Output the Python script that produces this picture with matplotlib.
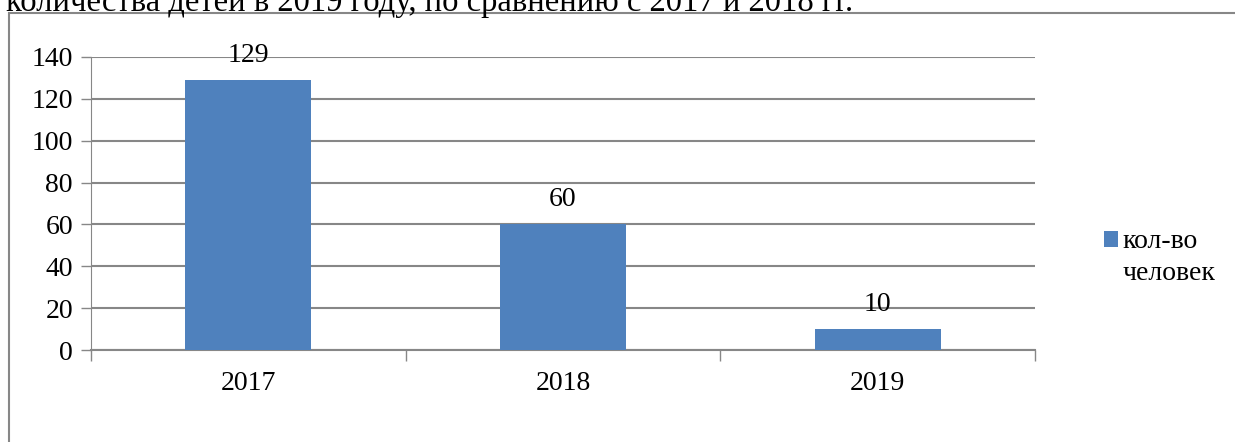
import matplotlib.pyplot as plt
from matplotlib.patches import Rectangle
from matplotlib.container import BarContainer
from matplotlib.legend_handler import HandlerPatch, update_from_first_child

years = ['2017', '2018', '2019']
counts = [129, 60, 10]
series_name = 'кол-во\nчеловек'
heading = 'количества детей в 2019 году, по сравнению с 2017 и 2018 гг.'

plt.rcParams['font.family'] = ['Liberation Serif', 'DejaVu Serif']

W, H = 1235, 442
fig = plt.figure(figsize=(W / 100, H / 100), dpi=100)

# caption line above the chart, clipped at the top edge
fig.text(6 / W, 1 - 11 / H, heading, fontsize=23.5, va='baseline', ha='left')

# outer chart frame (runs off the right and bottom edges)
fig.patches.append(Rectangle((9 / W, -0.1), 1.2, 1 - 13 / H + 0.1,
                             transform=fig.transFigure, fill=False,
                             edgecolor='#878787', linewidth=1.5))

ax = fig.add_axes([91 / W, 1 - 350 / H, (1035 - 91) / W, (350 - 57) / H])

x = list(range(len(years)))
ax.bar(x, counts, width=0.4, color='#4F81BD', zorder=3, label=series_name)
for xi, v in zip(x, counts):
    ax.annotate(str(v), (xi, v), xytext=(0, 9), textcoords='offset points',
                ha='center', va='bottom', fontsize=20)

ax.set_xlim(-0.5, 2.5)
ax.set_ylim(0, 140)
ax.set_yticks(range(0, 141, 20))
ax.yaxis.grid(True, color='#878787', linewidth=1.5, zorder=0)

ax.set_xticks([-0.5, 0.5, 1.5, 2.5])
ax.set_xticklabels([])
ax.set_xticks(x, minor=True)
ax.set_xticklabels(years, minor=True)
ax.tick_params(axis='x', which='minor', length=0, pad=15, labelsize=20)
ax.tick_params(axis='x', which='major', length=8, width=1, color='#878787')
ax.tick_params(axis='y', length=7, width=1, color='#878787', labelsize=20, pad=6)

for side in ('top', 'right'):
    ax.spines[side].set_visible(False)
ax.spines['left'].set_color('#878787')
ax.spines['bottom'].set_color('#878787')
ax.spines['bottom'].set_linewidth(1.5)


# legend square sits level with the first line of the label
def top_square(legend, orig_handle, xdescent, ydescent, width, height, fontsize):
    return Rectangle((-xdescent, -ydescent + 13), width, height)


leg = ax.legend(loc='upper left', bbox_to_anchor=(1093 / W, 1 - 218 / H),
                bbox_transform=fig.transFigure, frameon=False, fontsize=20,
                handlelength=0.5, handleheight=0.5, handletextpad=0.15,
                borderaxespad=0,
                handler_map={BarContainer: HandlerPatch(
                    patch_func=top_square, update_func=update_from_first_child)})
leg.get_texts()[0].set_linespacing(1.35)

fig.savefig('out.png', dpi=100)
